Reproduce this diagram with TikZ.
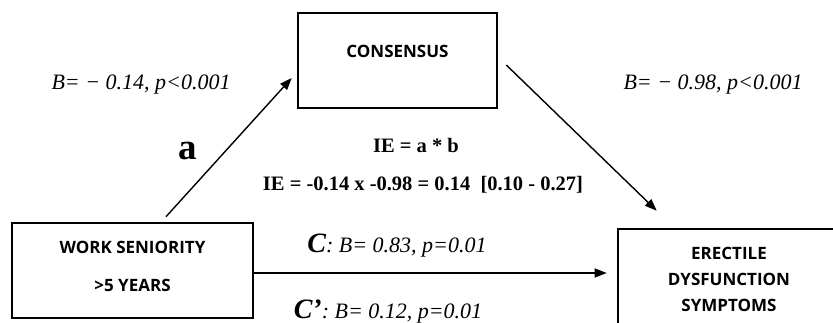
\documentclass[tikz,border=0pt]{standalone}
\usepackage{fontspec}
\setmainfont{Liberation Serif}
\newfontfamily\boxfont{Open Sans}
\usetikzlibrary{positioning, arrows.meta, calc}

\begin{document}
\begin{tikzpicture}[
  x=1pt, y=-1pt,
  >={Triangle[length=12pt, width=9pt]},
  var/.style={draw, line width=2.6pt, font=\boxfont\bfseries\fontsize{17}{26}\selectfont,
              align=center, inner sep=0pt},
  arr/.style={->, line width=1.4pt},
  coef/.style={font=\itshape\fontsize{22}{24}\selectfont},
  ie/.style={font=\bfseries\fontsize{20.5}{24}\selectfont},
  path/.style={font=\bfseries\fontsize{37}{38}\selectfont}
]
\useasboundingbox (0,0) rectangle (833,322);
\clip (0,0) rectangle (833,322);

%--- Variables ---
\node[var, minimum width=199pt, minimum height=95pt, text depth=19pt] (cons) at (397.5, 60.5) {CONSENSUS};
\node[var, minimum width=241pt, minimum height=95pt, text depth=9pt] (work) at (132.5, 270.5) {WORK SENIORITY\\[12pt]>5 YEARS};
\node[var, minimum width=222pt, minimum height=100pt] (ed) at (729, 279) {ERECTILE\\DYSFUNCTION\\SYMPTOMS};

%--- Paths ---
\draw[arr] ($(work.north)+(33.5,-5)$) -- ($(cons.west)+(-5,17.5)$);
\draw[arr] ($(cons.east)+(8,4.5)$) -- ($(ed.north west)+(40,-17)$);
\draw[arr] ($(work.east)+(0,2.5)$) -- ($(work.east -| ed.west)+(-10,2.5)$);

%--- Coefficients ---
\node[coef] (bcons) at (141, 85) {B= − 0.14, p<0.001};
\node[coef] (bed) at (713, 85) {B= − 0.98, p<0.001};
\node[path] (pa) at (188, 151) {a};
\node[ie] (ie1) at (416, 145) {IE = a * b};
\node[ie] (ie2) at (423, 185) {IE = -0.14 x -0.98 = 0.14 \ [0.10 - 0.27]};
\node[coef] (ctot) at (397, 246) {{\bfseries\fontsize{28}{28}\selectfont C}: B= 0.83, p=0.01};
\node[coef] (cdir) at (388, 312) {{\bfseries\fontsize{28}{28}\selectfont C’}: B= 0.12, p=0.01};

\end{tikzpicture}
\end{document}
